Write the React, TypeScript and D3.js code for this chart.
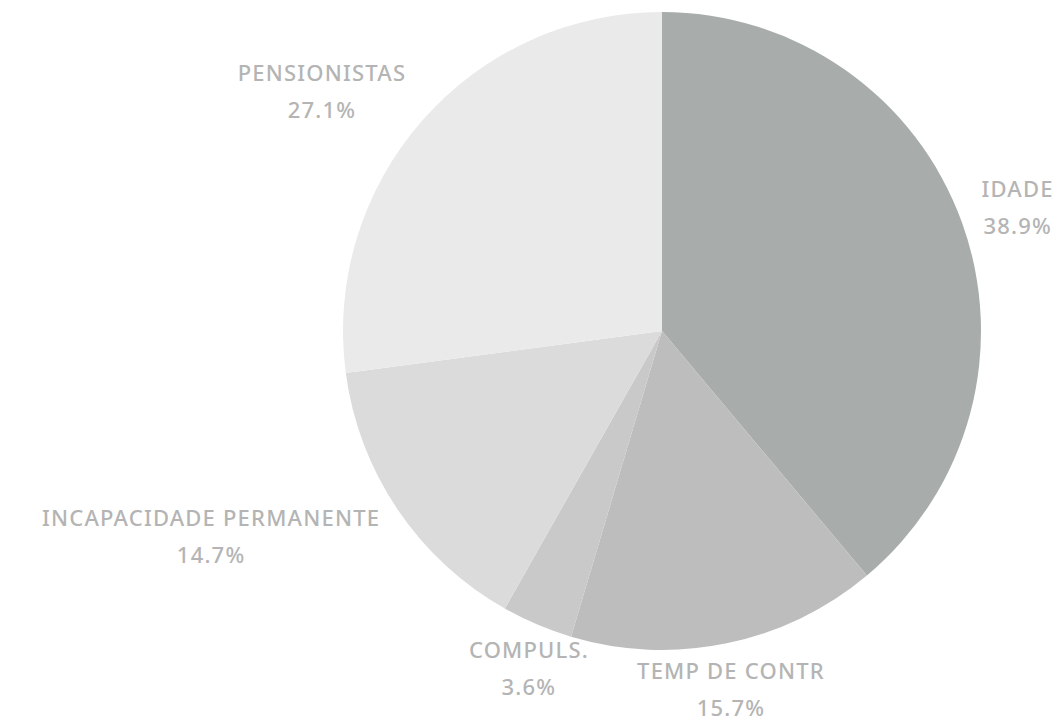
import React, { useEffect, useRef } from 'react';
import * as d3 from 'd3';

const categories = ['IDADE', 'TEMP DE CONTR', 'COMPULS.', 'INCAPACIDADE PERMANENTE', 'PENSIONISTAS'];
const shares = [38.9, 15.7, 3.6, 14.7, 27.1];
const shareLabels = ['38.9%', '15.7%', '3.6%', '14.7%', '27.1%'];
const sliceColors = ['#a8adab', '#bdbdbd', '#c9c9c9', '#dbdbdb', '#eaeaeb'];

const W = 1057;
const H = 727;

export default function App() {
  const ref = useRef<SVGSVGElement>(null);

  useEffect(() => {
    const svg = d3.select(ref.current);
    svg.selectAll('*').remove();

    const cx = 662,
      cy = 331,
      radius = 319,
      labelRadius = 340;

    const data = categories.map((name, i) => ({ name, value: shares[i], label: shareLabels[i] }));

    const pie = d3
      .pie<any>()
      .sort(null)
      .value((d) => d.value);
    const arcs = pie(data);

    const arc = d3.arc<any>().innerRadius(0).outerRadius(radius);

    const g = svg.append('g').attr('transform', 'translate(' + cx + ',' + cy + ')');

    g.selectAll('path.slice')
      .data(arcs)
      .enter()
      .append('path')
      .attr('class', 'slice')
      .attr('d', arc)
      .attr('fill', (d, i) => sliceColors[i]);

    // labels: name + share, pushed out from the middle of each slice
    const labels = g
      .selectAll('g.label')
      .data(arcs)
      .enter()
      .append('g')
      .attr('class', 'label');

    labels
      .append('text')
      .attr('text-anchor', 'middle')
      .attr('y', 0)
      .text((d: any) => d.data.name);

    labels
      .append('text')
      .attr('text-anchor', 'middle')
      .attr('y', 37)
      .text((d: any) => d.data.label);

    labels
      .selectAll('text')
      .style('font-family', '"Noto Sans", sans-serif')
      .style('font-size', '22px')
      .style('font-weight', 500)
      .style('letter-spacing', '1.2px')
      .style('fill', '#b4b4b4');

    labels.each(function (d: any) {
      const node = this as SVGGElement;
      const box = node.getBBox();
      const a = (d.startAngle + d.endAngle) / 2;
      const sx = Math.sin(a);
      const sy = -Math.cos(a);
      const px = labelRadius * sx;
      const py = labelRadius * sy;
      let bx = px;
      if (sx > 0.5) bx = px + box.width / 2;
      else if (sx < -0.5) bx = px - box.width / 2;
      const by = py + sy * box.height * 0.38;
      const ox = bx - (box.x + box.width / 2);
      const oy = by - (box.y + box.height / 2);
      d3.select(node).attr('transform', 'translate(' + ox + ',' + oy + ')');
    });
  }, []);

  return (
    <div>
      <svg ref={ref} width={W} height={H} style={{ display: 'block', position: 'absolute', left: 0, top: 0, background: '#fff' }} />
    </div>
  );
}
